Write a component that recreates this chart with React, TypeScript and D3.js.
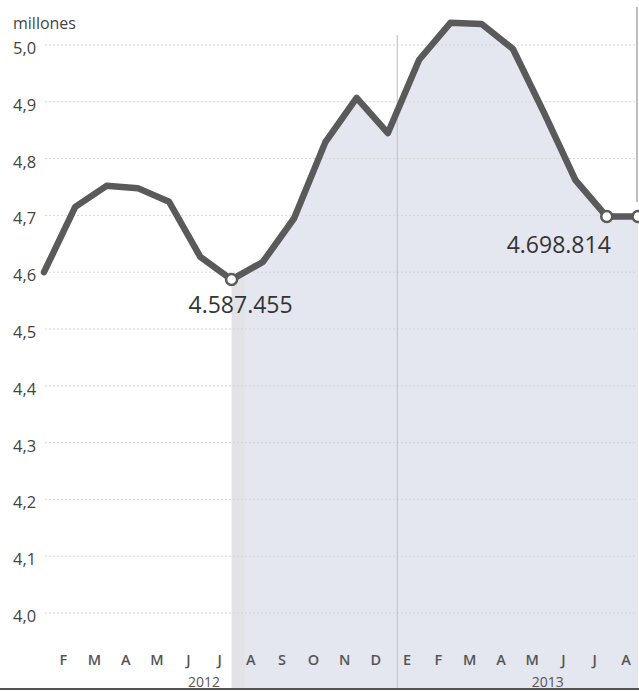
import React from "react";
import * as d3 from "d3";

const months = ["E","F","M","A","M","J","J","A","S","O","N","D","E","F","M","A","M","J","J","A"];
const values = [4.600, 4.715, 4.752, 4.748, 4.724, 4.627, 4.587, 4.618, 4.695, 4.829, 4.907, 4.845, 4.974, 5.039, 5.037, 4.993, 4.880, 4.762, 4.698, 4.698];
const yTicks = [4.0, 4.1, 4.2, 4.3, 4.4, 4.5, 4.6, 4.7, 4.8, 4.9, 5.0];
const years = [{ label: "2012", at: 5.5 }, { label: "2013", at: 16.5 }];
const annotations = [
  { index: 6, text: "4.587.455", dx: 9, dy: 33 },
  { index: 18, text: "4.698.814", dx: -48, dy: 36 },
];
const markers = [6, 18, 19];

const W = 639;
const H = 691;
const FONT = "'Open Sans', 'Noto Sans', sans-serif";

export default function App() {
  const x = d3.scaleLinear().domain([0, 19]).range([44, 638]);
  const y = d3.scaleLinear().domain([4.0, 5.0]).range([613, 45]);
  const bottom = 689;

  const pts = values.map((v, i) => [x(i), y(v)] as [number, number]);
  const line = d3.line<[number, number]>().x(d => d[0]).y(d => d[1])(pts) || "";
  const shadePts = pts.slice(6);
  const area = d3.area<[number, number]>().x(d => d[0]).y0(bottom).y1(d => d[1])(shadePts) || "";
  const fmt = (v: number) => d3.format(".1f")(v).replace(".", ",");

  return (
    <svg width={W} height={H} style={{ position: "absolute", left: 0, top: 0, background: "#fff" }}>
      <defs>
        <clipPath id="strip">
          <rect x={x(6)} y={0} width={x(6.42) - x(6)} height={H} />
        </clipPath>
      </defs>
      <path d={area} fill="#e4e6f0" />
      <path d={area} fill="#e3e3e7" clipPath="url(#strip)" />
      {yTicks.map(t => (
        <line key={"g" + t} x1={45} x2={636} y1={y(t)} y2={y(t)} stroke="#d6d6d6" strokeWidth={1} strokeDasharray="2,2" />
      ))}
      <line x1={x(11.3)} x2={x(11.3)} y1={35} y2={bottom} stroke="#c4c4c8" strokeWidth={1.2} />
      <line x1={637} x2={637} y1={7} y2={202} stroke="#a8a8a8" strokeWidth={1.5} />
      {yTicks.map(t => (
        <text key={"t" + t} x={13} y={y(t) + 9} fontFamily={FONT} fontSize={16.5} fill="#444">{fmt(t)}</text>
      ))}
      <text x={13} y={29} fontFamily={FONT} fontSize={16} fill="#444">millones</text>
      <path d={line} fill="none" stroke="#5a5a5a" strokeWidth={6.5} strokeLinejoin="round" strokeLinecap="round" />
      {markers.map(i => (
        <circle key={"c" + i} cx={x(i)} cy={y(values[i])} r={5.5} fill="#fff" stroke="#5a5a5a" strokeWidth={2.5} />
      ))}
      {annotations.map(a => (
        <text key={a.text} x={x(a.index) + a.dx} y={y(values[a.index]) + a.dy} textAnchor="middle" fontFamily={FONT} fontSize={23} fill="#333">{a.text}</text>
      ))}
      {months.map((m, i) => i === 0 ? null : (
        <text key={"m" + i} x={x(i) - 12} y={665} textAnchor="middle" fontFamily={FONT} fontSize={14.5} fontWeight={600} fill="#555">{m}</text>
      ))}
      {years.map(yr => (
        <text key={yr.label} x={x(yr.at) - 12} y={687} textAnchor="middle" fontFamily={FONT} fontSize={14} fill="#555">{yr.label}</text>
      ))}
      <line x1={0} x2={W} y1={bottom} y2={bottom} stroke="#555" strokeWidth={2} />
    </svg>
  );
}
